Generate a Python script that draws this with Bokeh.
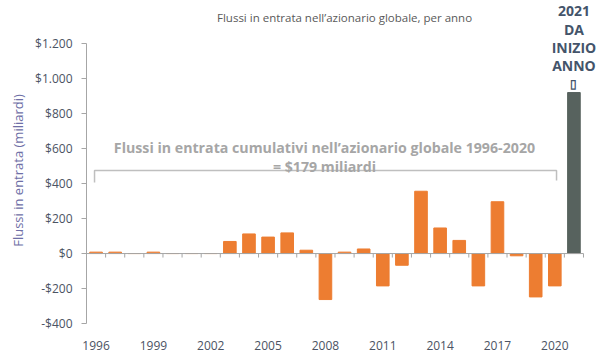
from bokeh.plotting import figure
from bokeh.models import Range1d, FixedTicker, Label
from bokeh.embed import file_html
from bokeh.resources import INLINE

# ---------------- data ----------------
years = list(range(1996, 2022))
flows = [8, 8, 0, 8, 0, 0, 0, 69, 112, 94, 118, 19, -263, 8, 26,
         -185, -67, 356, 146, 75, -185, 296, -13, -248, -185, 920]
ytd_year = 2021

y_ticks = [-400, -200, 0, 200, 400, 600, 800, 1000, 1200]
y_tick_labels = ["-$400", "-$200", "$0", "$200", "$400", "$600", "$800", "$1.000", "$1.200"]
x_label_years = [1996, 1999, 2002, 2005, 2008, 2011, 2014, 2017, 2020]
x_tick_labels = ["1996", "1999", "2002", "2005", "2008", "2011", "2014", "2017", "2020"]

title_text = "Flussi in entrata nell\u2019azionario globale, per anno"
y_title = "Flussi in entrata (miliardi)"
ytd_lines = ["2021", "DA", "INIZIO", "ANNO", "\u25af"]
bracket_lines = ["Flussi in entrata cumulativi nell\u2019azionario globale 1996-2020",
                 "= $179 miliardi"]
bracket_start, bracket_end = 1996, 2020

# ---------------- styles ----------------
ORANGE = "#ED7D31"
SLATE = "#57625E"
AXIS_GREY = "#A6A6A6"
TICK_TXT = "#4B5363"
FONT = "Open Sans"

bar_colors = [SLATE if y == ytd_year else ORANGE for y in years]

x_lo, x_hi = years[0] - 0.5, years[-1] + 0.5
p = figure(frame_width=517, frame_height=340, output_backend="svg", toolbar_location=None,
           x_range=Range1d(x_lo, x_lo + 27.047),
           y_range=Range1d(-497, 1446),
           min_border_left=86, min_border_right=0, min_border_top=0,
           min_border_bottom=0)
p.outline_line_color = None
p.xgrid.visible = False
p.ygrid.visible = False
p.background_fill_color = "white"

p.vbar(x=years, top=flows, width=0.66, fill_color=bar_colors, line_color=bar_colors)

# y axis
ya = p.yaxis[0]
ya.bounds = (y_ticks[0], y_ticks[-1])
ya.ticker = FixedTicker(ticks=y_ticks)
ya.major_label_overrides = {t: l for t, l in zip(y_ticks, y_tick_labels)}
ya.axis_line_color = AXIS_GREY
ya.major_tick_line_color = AXIS_GREY
ya.major_tick_in = 0
ya.major_tick_out = 5
ya.minor_tick_line_color = None
ya.major_label_text_font = FONT
ya.major_label_text_font_size = "12px"
ya.major_label_text_color = TICK_TXT
ya.major_label_standoff = 9
ya.axis_label = y_title
ya.axis_label_text_font = FONT
ya.axis_label_text_font_size = "13px"
ya.axis_label_text_font_style = "normal"
ya.axis_label_text_color = "#6E6EA6"
ya.axis_label_standoff = 5

# bottom year labels
xa = p.xaxis[0]
xa.ticker = FixedTicker(ticks=x_label_years)
xa.major_label_overrides = {t: l for t, l in zip(x_label_years, x_tick_labels)}
xa.axis_line_color = None
xa.major_tick_line_color = None
xa.major_tick_in = 0
xa.major_tick_out = 0
xa.minor_tick_line_color = None
xa.major_label_text_font = FONT
xa.major_label_text_font_size = "12px"
xa.major_label_text_color = TICK_TXT
xa.major_label_standoff = 0

# zero line with category-boundary ticks
p.segment(x0=[x_lo], x1=[x_hi], y0=[0], y1=[0], line_color=AXIS_GREY, line_width=1)
bounds = [y + 0.5 for y in years]
p.segment(x0=bounds, x1=bounds, y0=[0] * len(bounds), y1=[-23] * len(bounds),
          line_color=AXIS_GREY, line_width=1)

# bracket
bx0, bx1 = bracket_start - 0.08, bracket_end + 0.09
p.line(x=[bx0, bx0, bx1, bx1], y=[406, 474, 474, 417],
       line_color="#BFBFBF", line_width=1.5)
for i, t in enumerate(bracket_lines):
    p.add_layout(Label(x=2007.95, y=606 - i * 109, text=t, text_align="center",
                       text_baseline="middle", text_font=FONT, text_font_size="14.2px",
                       text_font_style="bold", text_color="#A6A6A6"))

# title
p.add_layout(Label(x=2009.0, y=1349, text=title_text, text_align="center",
                   text_baseline="middle", text_font=FONT, text_font_size="11.5px",
                   text_color="#595959"))

# 2021 YTD label
ytd_sizes = ["14px", "14px", "14px", "14px", "12px"]
for i, (t, s) in enumerate(zip(ytd_lines, ytd_sizes)):
    p.add_layout(Label(x=ytd_year, y=1386 - i * 103, text=t, text_align="center",
                       text_baseline="middle", text_font=FONT, text_font_size=s,
                       text_font_style="bold", text_color="#44546A"))

open("out.html", "w").write(file_html(p, INLINE))
